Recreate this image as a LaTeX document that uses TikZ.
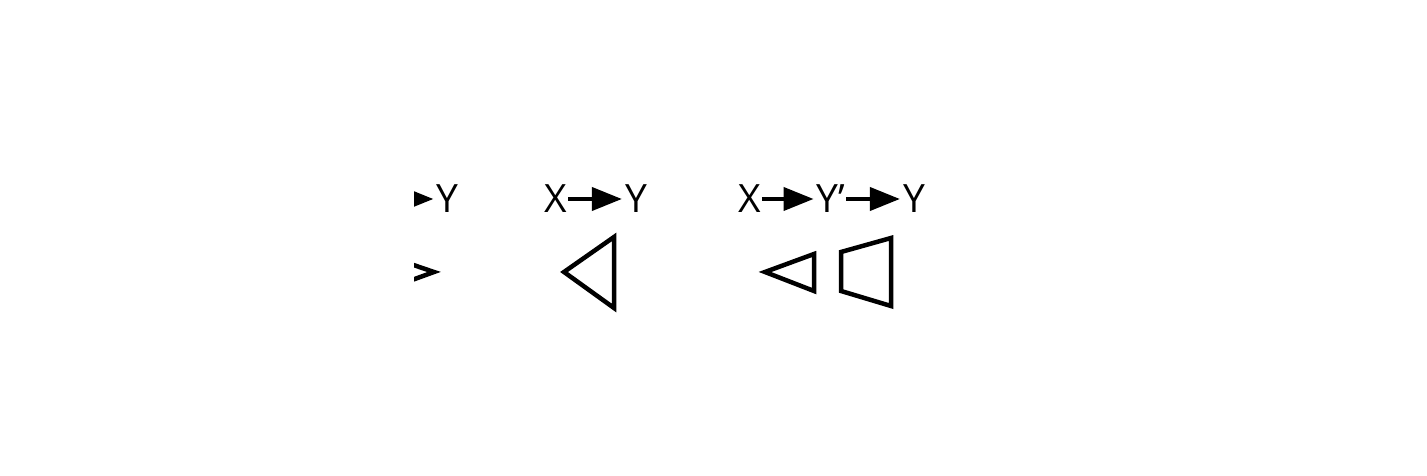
\documentclass[tikz,border=0pt]{standalone}
\usepackage{fontspec}
\setmainfont{Open Sans}
\usetikzlibrary{arrows.meta}
\begin{document}
\begin{tikzpicture}[x=1pt,y=1pt,
  lbl/.style={inner sep=0pt,anchor=base,text height=28pt,text depth=0pt,font=\fontsize{39}{39}\selectfont},
  arr/.style={line width=4pt,-{Triangle[length=30pt,width=23pt]},shorten <=1pt,shorten >=3pt},
  outline/.style={line width=4.5pt,line join=miter}]
  \useasboundingbox (0,0) rectangle (1427,476);

  % left panel, cut off at its left edge
  \begin{scope}
    \clip (414,0) rectangle (1427,476);
    \node[lbl] (yl) at (447.5,263) {Y};
    \coordinate (xl) at (380,277);
    \draw[arr] (xl) -- (yl);
    \draw[outline] (390,219) -- (434,204) -- (390,188);
  \end{scope}

  % middle panel
  \node[lbl] (xm) at (556,263) {X};
  \node[lbl] (ym) at (636,263) {Y};
  \draw[arr] (xm) -- (ym);
  \draw[outline] (564,204) -- (614,239) -- (614,168) -- cycle;

  % right panel
  \node[lbl] (xr) at (749.5,263) {X};
  \node[lbl] (yp) at (831,263) {Y’};
  \node[lbl] (yr) at (914,263) {Y};
  \draw[arr] (xr) -- (yp);
  \draw[arr] (yp) -- (yr);
  \draw[outline] (765,204) -- (814,222) -- (814,185) -- cycle;
  \draw[outline] (841,224) -- (891,238) -- (891,170) -- (841,185) -- cycle;
\end{tikzpicture}
\end{document}
